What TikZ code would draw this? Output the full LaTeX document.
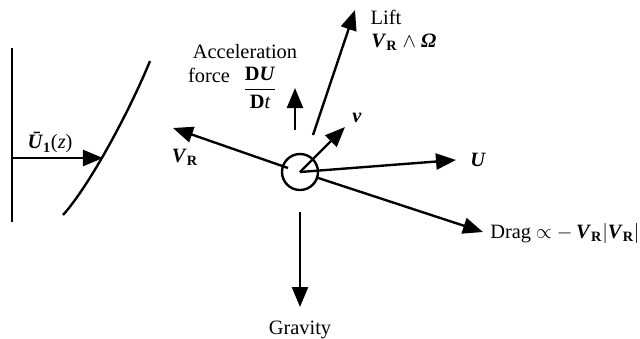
\documentclass[tikz,border=0pt]{standalone}
\usepackage{amsmath}
\usepackage{fontspec}
\setmainfont{Liberation Serif}
\usetikzlibrary{arrows.meta,positioning,calc}
\newcommand{\bvec}[1]{\textbf{\textit{#1}}}
\newcommand{\VR}{\bvec{V}\textsubscript{\textbf{R}}}

\begin{document}
\begin{tikzpicture}[
  x=0.025cm, y=-0.025cm,
  font=\fontsize{14.5}{17}\selectfont,
  force/.style={-{Triangle[length=5mm,width=4mm]}, line width=1.7pt},
  wall/.style={line width=1.7pt},
  lbl/.style={inner sep=0pt}
]
  \useasboundingbox (0,0) rectangle (640,338);

  % Velocity profile
  \coordinate (wtop) at (12,48);
  \coordinate (wbot) at (12,222);
  \coordinate (wmid) at (12,158);
  \coordinate (ptip) at (103,158);
  \draw[wall] (wtop) -- (wbot);
  \draw[wall] (63,215) .. controls (90,185) and (130,110) .. (150,61);
  \draw[force] (wmid) -- (ptip);
  \node[lbl] (ulab) at (50,143) {\bvec{\=U}\textsubscript{\textbf{1}}(\textit{z})};

  % Particle
  \node[draw, circle, wall, minimum size=0.9cm, inner sep=0pt] (p) at (300,172) {};
  \coordinate (c) at (300,172);
  \coordinate (vrbase) at (288,168);
  \coordinate (vrtip) at (173,128);
  \coordinate (acbase) at (295,130);
  \coordinate (actip) at (295,88);
  \coordinate (lfbase) at (313,135);
  \coordinate (lftip) at (355,10);
  \coordinate (vtip) at (345,127);
  \coordinate (utip) at (456,160);
  \coordinate (dgtip) at (483,232);
  \coordinate (gvbase) at (300,212);
  \coordinate (gvtip) at (300,307);

  % Labels
  \node[lbl] (vrlab) at (185,157) {\VR};
  \node[lbl] (acc) at (245,52) {Acceleration};
  \node[lbl] (frc) at (209,75) {force};
  \node[lbl] (dudt) at (260,88) {$\dfrac{\textbf{D}\bvec{U}}{\textbf{D}\textit{t}}$};
  \node[lbl] (lift) at (386,17) {Lift};
  \node[lbl, anchor=west] (lfvec) at (371,42) {\VR\ $\wedge$ \bvec{Ω}};
  \node[lbl] (vlab) at (357,118) {\bvec{v}};
  \node[lbl, right=10pt of utip] (ulab2) {\bvec{U}};
  \node[lbl, anchor=west] (drag) at (490,233) {Drag $\propto$ $-$\,\VR$|$\VR$|$};
  \node[lbl, below=10pt of gvtip] (grav) {Gravity};

  % Arrows
  \draw[force] (vrbase) -- (vrtip);
  \draw[force] (acbase) -- (actip);
  \draw[force] (lfbase) -- (lftip);
  \draw[force] (c) -- (vtip);
  \draw[force] (c) -- (utip);
  \draw[force] (p) -- (dgtip);
  \draw[force] (gvbase) -- (gvtip);
\end{tikzpicture}
\end{document}
